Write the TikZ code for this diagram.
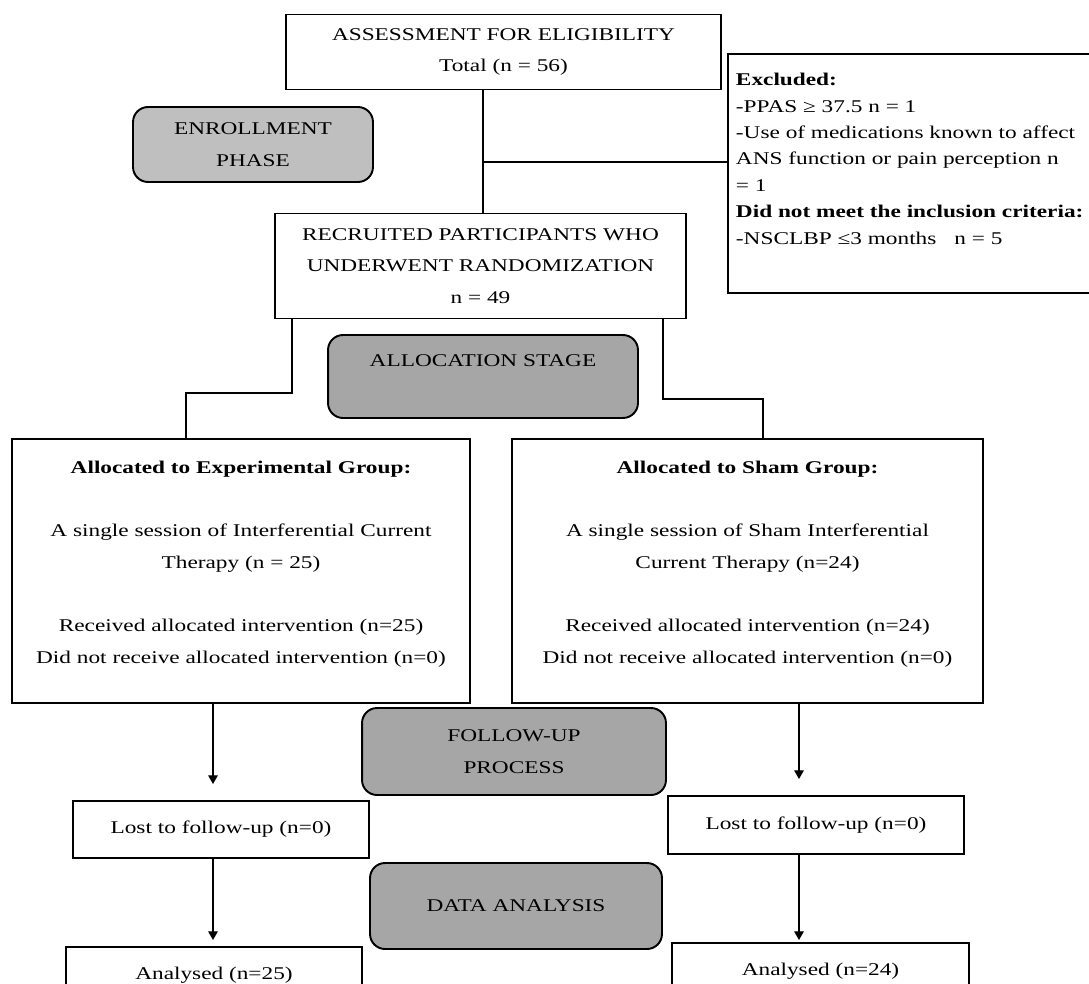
\documentclass[tikz,border=0pt]{standalone}
\usepackage{fontspec}
\setmainfont[FakeStretch=1.3]{Liberation Serif}
\usetikzlibrary{arrows.meta}
\tikzstyle{box}=[rectangle, draw=black, line width=1.1pt, fill=white, align=center, inner sep=0pt, font=\fontsize{10.2}{18}\selectfont]
\tikzstyle{stage}=[box, rounded corners=0.3cm, fill=black!35]
\tikzstyle{stagelight}=[stage, fill=black!25]
\tikzstyle{link}=[line width=0.8pt]
\tikzstyle{flow}=[link, -{Triangle[length=5pt,width=5.5pt]}]

\begin{document}
\begin{tikzpicture}[x=0.02cm, y=-0.02cm]
	\useasboundingbox (0,0) rectangle (1089,984);
	\clip (0,0) rectangle (1089,984);

	% enrollment
	\node[box, minimum width=8.7cm, minimum height=1.5cm](assess) at (503.5,52){ASSESSMENT FOR ELIGIBILITY\\Total (n = 56)};
	\node[stagelight, minimum width=4.8cm, minimum height=1.5cm](enrol) at (253,144.5){ENROLLMENT\\PHASE};
	\node[box, anchor=north west, inner xsep=0.16cm, inner ysep=0.39cm, align=left](excl) at (727,53){\parbox[t][4cm][t]{9cm}{\fontsize{10.2}{15}\selectfont
		\textbf{Excluded:}\\
		-PPAS ≥ 37.5 n = 1\\
		-Use of medications known to affect\\
		ANS function or pain perception n\\
		= 1\\
		\textbf{Did not meet the inclusion criteria:}\\
		-NSCLBP ≤3 months\quad n = 5}};
	\node[box, minimum width=8.22cm, minimum height=2.1cm](recruit) at (480.5,266){RECRUITED PARTICIPANTS WHO\\UNDERWENT RANDOMIZATION\\n = 49};

	% allocation
	\node[stage, minimum width=6.2cm, minimum height=1.66cm](alloc) at (483,376.5){ALLOCATION STAGE\\ \mbox{}};
	\node[box, minimum width=9.16cm, minimum height=5.28cm](expgrp) at (241,571){\textbf{Allocated to Experimental Group:}\\ \mbox{}\\A single session of Interferential Current\\Therapy (n = 25)\\ \mbox{}\\Received allocated intervention (n=25)\\Did not receive allocated intervention (n=0)\\[-8pt]\mbox{}};
	\node[box, minimum width=9.42cm, minimum height=5.28cm](shamgrp) at (747.5,571){\textbf{Allocated to Sham Group:}\\ \mbox{}\\A single session of Sham Interferential\\Current Therapy (n=24)\\ \mbox{}\\Received allocated intervention (n=24)\\Did not receive allocated intervention (n=0)\\[-8pt]\mbox{}};

	% follow-up and analysis
	\node[stage, minimum width=6.08cm, minimum height=1.74cm](follow) at (514,751.5){FOLLOW-UP\\PROCESS};
	\node[box, minimum width=5.92cm, minimum height=1.14cm](lostL) at (221,829.5){Lost to follow-up (n=0)};
	\node[box, minimum width=5.92cm, minimum height=1.16cm](lostR) at (816,825){Lost to follow-up (n=0)};
	\node[stage, minimum width=5.84cm, minimum height=1.72cm](data) at (516,906){DATA ANALYSIS};
	\node[box, minimum width=5.92cm, minimum height=1.14cm](anaL) at (214,975.5){Analysed (n=25)};
	\node[box, minimum width=5.94cm, minimum height=1.14cm](anaR) at (820.5,971.5){Analysed (n=24)};

	% connectors
	\coordinate (junc) at (483,162);
	\draw[link] (assess.south -| junc) -- (recruit.north -| junc);
	\draw[link] (junc) -- (junc -| excl.west);
	\coordinate (lsx) at (292,393);
	\coordinate (bendL) at (186,393);
	\draw[link] (lsx |- recruit.south) -- (lsx) -- (bendL) -- (bendL |- expgrp.north);
	\coordinate (rsx) at (663,399);
	\coordinate (bendR) at (763,399);
	\draw[link] (rsx |- recruit.south) -- (rsx) -- (bendR) -- (bendR |- shamgrp.north);

	\coordinate (colL) at (213,0);
	\coordinate (colR) at (799,0);
	\draw[flow, shorten >=0.32cm] (colL |- expgrp.south) -- (colL |- lostL.north);
	\draw[flow, shorten >=0.12cm] (colL |- lostL.south) -- (colL |- anaL.north);
	\draw[flow, shorten >=0.32cm] (colR |- shamgrp.south) -- (colR |- lostR.north);
	\draw[flow, shorten >=0.04cm] (colR |- lostR.south) -- (colR |- anaR.north);
\end{tikzpicture}
\end{document}
